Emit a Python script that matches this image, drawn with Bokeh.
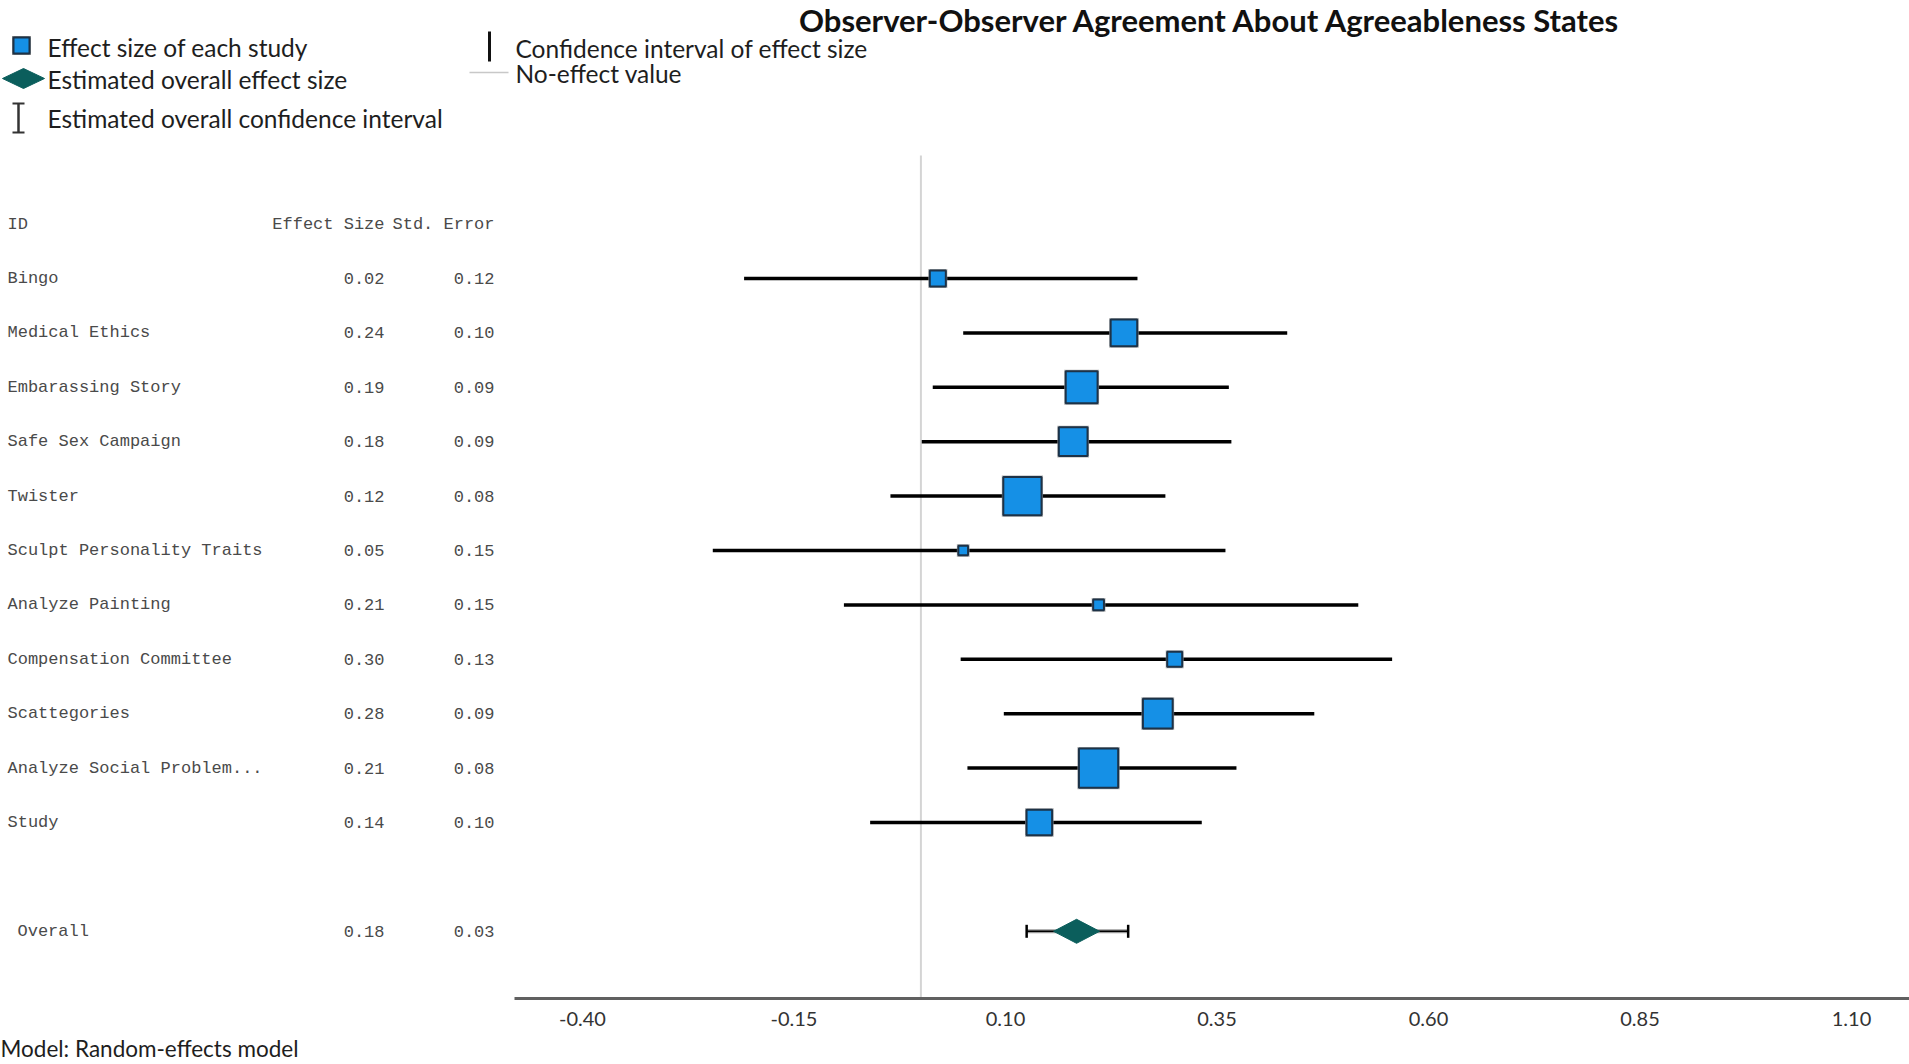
import math
from bokeh.plotting import figure
from bokeh.models import Range1d, LinearAxis, FixedTicker, NumeralTickFormatter, ColumnDataSource
from bokeh.core.properties import value
from bokeh.embed import file_html
from bokeh.resources import INLINE

# ---------------- data ----------------
title_text = "Observer-Observer Agreement About Agreeableness States"
studies = ["Bingo", "Medical Ethics", "Embarassing Story", "Safe Sex Campaign", "Twister",
           "Sculpt Personality Traits", "Analyze Painting", "Compensation Committee",
           "Scattegories", "Analyze Social Problem...", "Study"]
effect = [0.02, 0.24, 0.19, 0.18, 0.12, 0.05, 0.21, 0.30, 0.28, 0.21, 0.14]
std_err = [0.12, 0.10, 0.09, 0.09, 0.08, 0.15, 0.15, 0.13, 0.09, 0.08, 0.10]
ci_low = [-0.209, 0.050, 0.014, 0.001, -0.036, -0.246, -0.091, 0.047, 0.098, 0.055, -0.060]
ci_high = [0.256, 0.433, 0.364, 0.367, 0.289, 0.360, 0.517, 0.557, 0.465, 0.373, 0.332]
weight = [3.8, 9.2, 12.8, 10.6, 17.9, 1.7, 2.0, 3.4, 11.3, 18.8, 8.6]

overall_label = "Overall"
overall_effect = 0.184
overall_se = 0.03
overall_low = 0.125
overall_high = 0.245

tick_values = [-0.40, -0.15, 0.10, 0.35, 0.60, 0.85, 1.10]
header = ["ID", "Effect Size", "Std. Error"]
legend_left = ["Effect size of each study", "Estimated overall effect size",
               "Estimated overall confidence interval"]
legend_right = ["Confidence interval of effect size", "No-effect value"]
footnote = "Model: Random-effects model"

# ---------------- layout constants ----------------
W, H = 1909, 1064
ROW0, ROWH = 278.0, 54.4          # canvas y of first row and row spacing
PX_PER_UNIT = 846.0
X0_CANVAS = 582.0                  # canvas x of -0.40
AXIS_Y_PX = 998.0
x_start = -0.40 - X0_CANVAS / PX_PER_UNIT
x_end = x_start + W / PX_PER_UNIT
y_top = -ROW0 / ROWH
y_bot = (H - ROW0) / ROWH
axis_y = (AXIS_Y_PX - ROW0) / ROWH
axis_left = x_start + 514 / PX_PER_UNIT
overall_row = len(studies) + 1

BLUE = "#1590e6"
TEAL = "#0b5e5c"
FONT = "Lato"
MONO = "Liberation Mono"

p = figure(width=W, height=H, min_border=0, toolbar_location=None, output_backend="svg",
           x_range=Range1d(x_start, x_end), y_range=Range1d(y_bot, y_top),
           x_axis_location=None, y_axis_location=None)
p.xgrid.visible = False
p.ygrid.visible = False
p.outline_line_color = None
p.background_fill_color = "white"
p.border_fill_color = "white"
p.extra_x_ranges = {"px": Range1d(0, W)}
p.extra_y_ranges = {"py": Range1d(H, 0)}

rows = list(range(len(studies)))

# no-effect line
p.segment(x0=[0], x1=[0], y0=[(155 - ROW0) / ROWH], y1=[axis_y],
          line_color="#d4d4d4", line_width=2)

# x axis
xaxis = LinearAxis(ticker=FixedTicker(ticks=tick_values),
                   formatter=NumeralTickFormatter(format="0.00"),
                   bounds=(axis_left, x_end), fixed_location=axis_y,
                   axis_line_width=3, axis_line_color="#606060",
                   major_tick_line_color=None, minor_tick_line_color=None,
                   major_label_text_font=FONT, major_label_text_font_size="20px",
                   major_label_text_color="#333333", major_label_standoff=7)
p.add_layout(xaxis, "below")

# confidence intervals
src = ColumnDataSource(dict(
    y=rows, lo=ci_low, hi=ci_high, est=effect,
    size=[math.sqrt(w * 95.0) for w in weight],
    inner=[math.sqrt(w * 95.0) - 3 for w in weight],
    name=studies,
    es=[f"{v:.2f}" for v in effect],
    se=[f"{v:.2f}" for v in std_err],
))
p.segment(x0="lo", x1="hi", y0="y", y1="y", source=src, line_color="black", line_width=3.5)
p.scatter(x="est", y="y", size="size", marker="square", source=src,
          fill_color="#9a9a9a", line_color=None, fill_alpha=0.8)
p.scatter(x="est", y="y", size="inner", marker="square", source=src,
          fill_color=BLUE, line_color="#1d3247", line_width=2)

# overall
p.segment(x0=[overall_low], x1=[overall_high], y0=[overall_row], y1=[overall_row],
          line_color="#9a9a9a", line_width=4)
p.segment(x0=[overall_low], x1=[overall_high], y0=[overall_row], y1=[overall_row],
          line_color="black", line_width=1.5)
p.scatter(x=[overall_low, overall_high], y=[overall_row, overall_row], marker="dash",
          angle=math.pi / 2, size=13, line_color="black", line_width=2.5)
dx = 23 / PX_PER_UNIT
dy = 12 / ROWH
p.patch(x=[overall_effect - dx, overall_effect, overall_effect + dx, overall_effect],
        y=[overall_row, overall_row - dy, overall_row, overall_row + dy],
        fill_color=TEAL, line_color=TEAL, line_width=1)

# table
tcol = "#4a4a4a"
tsize = "17px"
COL_ID, COL_ES, COL_SE = 7, 384, 494
p.text(x=[COL_ID] * len(studies), y=rows, text=studies, x_range_name="px",
       text_font=value(MONO), text_font_size=tsize, text_color=tcol,
       text_baseline="middle", text_align="left")
p.text(x=COL_ES, y="y", text="es", source=src, x_range_name="px",
       text_font=value(MONO), text_font_size=tsize, text_color=tcol,
       text_baseline="middle", text_align="right")
p.text(x=COL_SE, y="y", text="se", source=src, x_range_name="px",
       text_font=value(MONO), text_font_size=tsize, text_color=tcol,
       text_baseline="middle", text_align="right")
p.text(x=[COL_ID], y=[-1], text=[header[0]], x_range_name="px",
       text_font=value(MONO), text_font_size=tsize, text_color=tcol,
       text_baseline="middle", text_align="left")
p.text(x=[COL_ES, COL_SE], y=[-1, -1], text=header[1:], x_range_name="px",
       text_font=value(MONO), text_font_size=tsize, text_color=tcol,
       text_baseline="middle", text_align="right")
p.text(x=[17], y=[overall_row], text=[overall_label],
       x_range_name="px", text_font=value(MONO), text_font_size=tsize, text_color=tcol,
       text_baseline="middle", text_align="left")
p.text(x=[COL_ES, COL_SE], y=[overall_row] * 2,
       text=[f"{overall_effect:.2f}", f"{overall_se:.2f}"],
       x_range_name="px", text_font=value(MONO), text_font_size=tsize, text_color=tcol,
       text_baseline="middle", text_align="right")

# title
p.text(x=[1210], y=[0], text=[title_text], x_range_name="px", y_range_name="py",
       text_font=value(FONT), text_font_style="bold", text_font_size="31px",
       text_color="#111111", text_align="center", text_baseline="top")

# legend
p.scatter(x=[21], y=[45], marker="square", size=19, x_range_name="px", y_range_name="py",
          fill_color="#8a8a8a", line_color=None)
p.scatter(x=[21], y=[45], marker="square", size=16, x_range_name="px", y_range_name="py",
          fill_color=BLUE, line_color="#1d3247", line_width=2)
p.patch(x=[2, 23, 44, 23], y=[78, 68, 78, 88], x_range_name="px", y_range_name="py",
        fill_color=TEAL, line_color=TEAL)
p.segment(x0=[18, 12, 12], x1=[18, 24, 24], y0=[103, 103, 132], y1=[132, 103, 132],
          x_range_name="px", y_range_name="py", line_color="#333333", line_width=[2.5, 2, 2])
p.segment(x0=[489], x1=[489], y0=[31], y1=[61], x_range_name="px", y_range_name="py",
          line_color="#111111", line_width=3)
p.segment(x0=[469], x1=[508], y0=[72], y1=[72], x_range_name="px", y_range_name="py",
          line_color="#c8c8c8", line_width=1.5)
p.text(x=[47, 47, 47], y=[47, 79, 118], text=legend_left, x_range_name="px", y_range_name="py",
       text_font=value(FONT), text_font_size="24.5px", text_color="#1e1e1e",
       text_baseline="middle", text_align="left")
p.text(x=[515, 515], y=[48, 73], text=legend_right, x_range_name="px", y_range_name="py",
       text_font=value(FONT), text_font_size="24.5px", text_color="#1e1e1e",
       text_baseline="middle", text_align="left")

# footnote
p.text(x=[0], y=[1048], text=[footnote], x_range_name="px", y_range_name="py",
       text_font=value(FONT), text_font_size="22.5px", text_color="#1e1e1e",
       text_baseline="middle", text_align="left")

open("out.html", "w").write(file_html(p, INLINE))
